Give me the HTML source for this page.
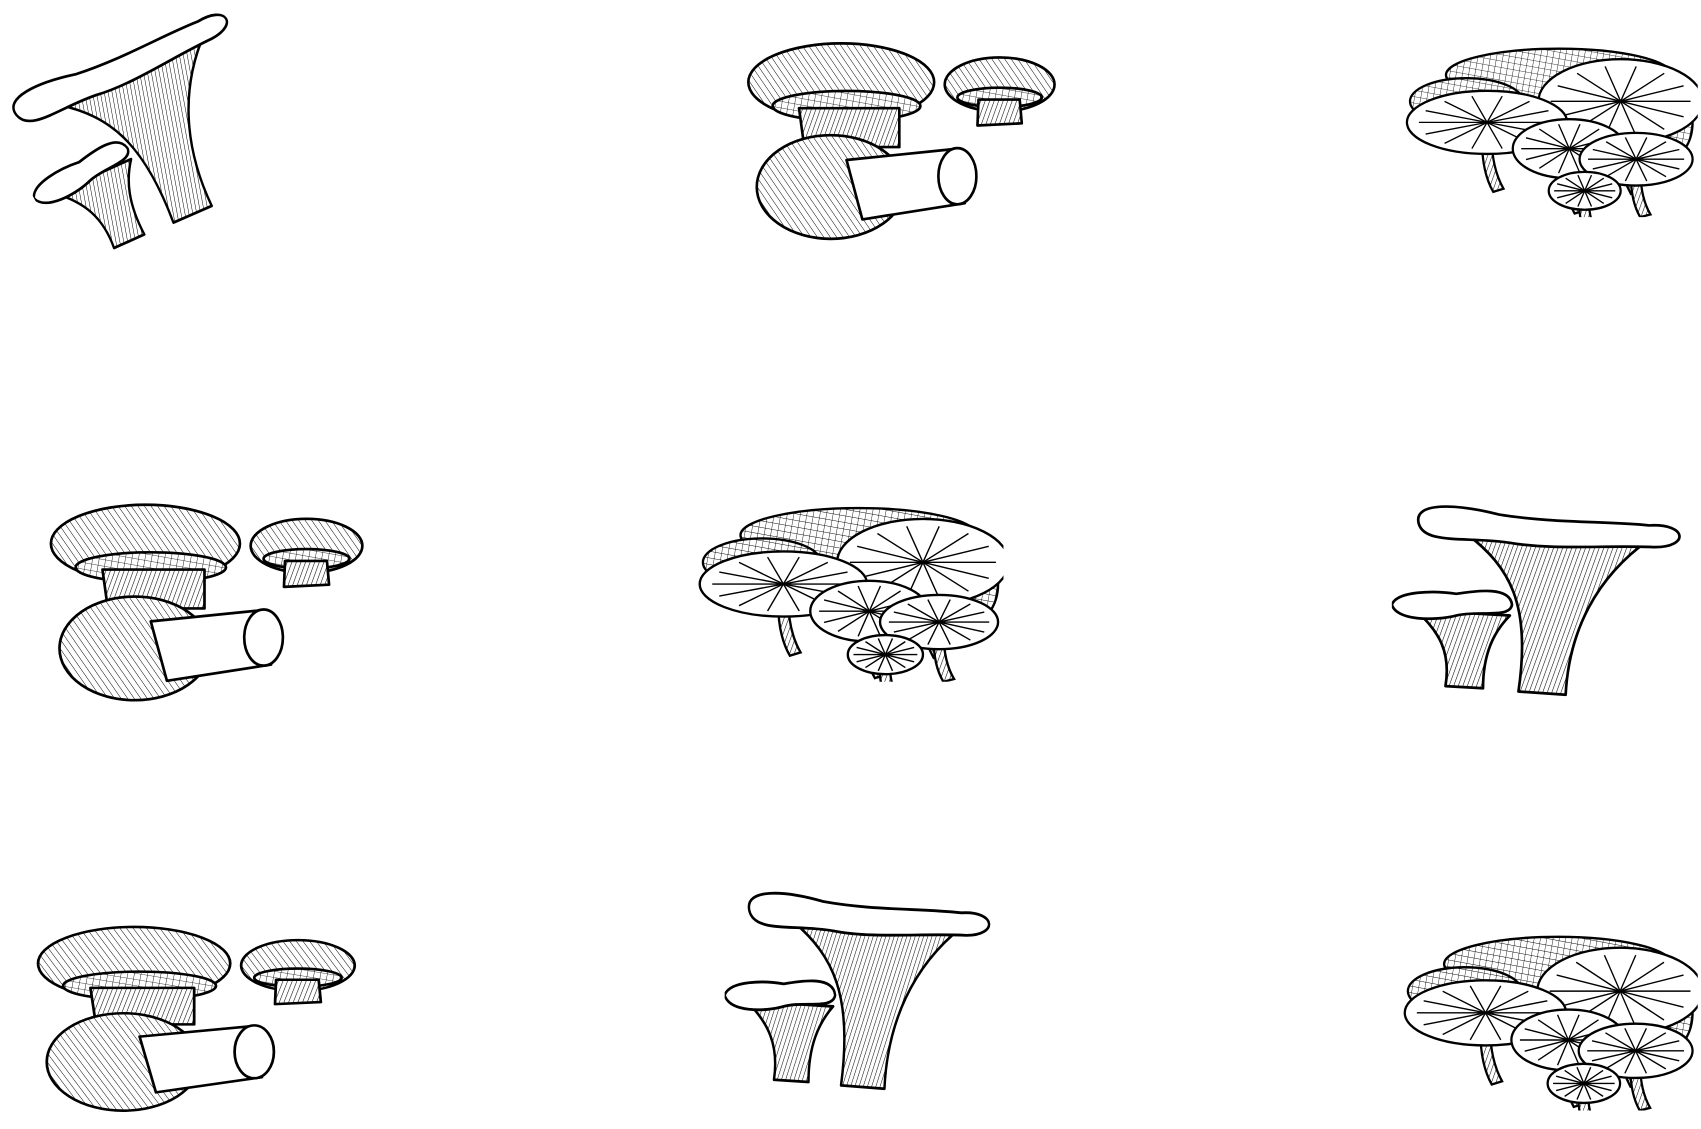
<!DOCTYPE html>
<html><head><meta charset="utf-8"><style>
html,body{margin:0;padding:0;background:#fff;}
svg{display:block;}
</style></head><body>
<svg width="1701" height="1129" viewBox="0 0 1568 1040" preserveAspectRatio="none" xmlns="http://www.w3.org/2000/svg">
<defs>
<pattern id="h1" width="4" height="4" patternUnits="userSpaceOnUse" patternTransform="rotate(20)"><rect width="4" height="4" fill="#fff"/><line x1="0" y1="0" x2="0" y2="4" stroke="#000" stroke-width="1"/></pattern>
<pattern id="h2" width="5" height="5" patternUnits="userSpaceOnUse" patternTransform="rotate(-35)"><rect width="5" height="5" fill="#fff"/><line x1="0" y1="0" x2="0" y2="5" stroke="#000" stroke-width="0.9"/></pattern>
<pattern id="h3" width="6" height="6" patternUnits="userSpaceOnUse" patternTransform="rotate(10)"><rect width="6" height="6" fill="#fff"/><path d="M0 0V6M0 0H6" stroke="#000" stroke-width="0.8"/></pattern>

<symbol id="funnel" viewBox="0 0 275 180" preserveAspectRatio="none">
 <g stroke="#000" stroke-width="2.5" stroke-linejoin="round">
  <path d="M70 30 C110 60,130 95,118 175 L162 178 C165 120,190 70,240 35 Z" fill="url(#h1)"/>
  <path d="M25 20 C20 0,60 2,100 12 C150 20,200 18,240 22 C275 20,278 42,245 42 C200 40,150 45,110 38 C70 32,30 40,25 20 Z" fill="#fff"/>
  <path d="M22 100 C45 120,55 140,50 170 L85 172 C85 140,95 120,110 105 Z" fill="url(#h1)"/>
  <path d="M0 95 C5 82,40 82,60 85 C80 82,110 78,112 95 C110 108,80 100,60 105 C40 110,5 110,0 95 Z" fill="#fff"/>
 </g>
</symbol>

<symbol id="button" viewBox="0 0 300 185" preserveAspectRatio="none">
 <g stroke="#000" stroke-width="2.5" stroke-linejoin="round">
  <ellipse cx="95" cy="38" rx="88" ry="36" fill="url(#h2)"/>
  <ellipse cx="100" cy="60" rx="70" ry="14" fill="url(#h3)"/>
  <path d="M55 62 L60 98 L150 98 L150 62 Z" fill="url(#h1)"/>
  <ellipse cx="245" cy="40" rx="52" ry="25" fill="url(#h2)"/>
  <ellipse cx="245" cy="52" rx="40" ry="9" fill="url(#h3)"/>
  <path d="M225 54 L224 78 L266 76 L264 54 Z" fill="url(#h1)"/>
  <ellipse cx="85" cy="135" rx="70" ry="48" fill="url(#h2)"/>
  <path d="M100 110 L200 100 L212 150 L115 165 Z" fill="#fff"/>
  <ellipse cx="205" cy="125" rx="18" ry="26" fill="#fff"/>
 </g>
</symbol>

<symbol id="oyster" viewBox="0 0 285 165" preserveAspectRatio="none">
 <g id="oyster-g" stroke="#000" stroke-width="2.2" fill="#fff"></g>
</symbol>
</defs>

<g transform="translate(135 122) rotate(-28) translate(-120 -90)">
 <use href="#funnel" x="0" y="0" width="240" height="180"/>
</g>
<use href="#button" x="683" y="38" width="292" height="184"/>
<use href="#oyster" x="1295" y="40" width="270" height="160"/>
<use href="#button" x="40" y="463" width="297" height="184"/>
<use href="#oyster" x="643" y="463" width="282" height="165"/>
<use href="#funnel" x="1283" y="462" width="272" height="180"/>
<use href="#button" x="28" y="852" width="302" height="173"/>
<use href="#funnel" x="668" y="818" width="250" height="187"/>
<use href="#oyster" x="1293" y="858" width="272" height="165"/>
</svg>
<script>
const caps=[[150,30,110,25,0],[60,55,55,22,0],[250,75,30,38,0],[210,55,80,40,1],[80,75,78,30,1],[160,100,55,28,1],[225,110,55,25,1],[175,140,35,18,1]];
const g=document.getElementById('oyster-g');
const NS='http://www.w3.org/2000/svg';
caps.forEach(c=>{
 const [cx,cy,rx,ry,st]=c;
 if(st){const s=document.createElementNS(NS,'path');
  s.setAttribute('d',`M${cx-4} ${cy} Q${cx-8} ${cy+ry*1.4} ${cx+ry*0.4-6} ${cy+ry*2.2} L${cx+ry*0.4+4} ${cy+ry*2.1} Q${cx+2} ${cy+ry*1.3} ${cx+5} ${cy} Z`);
  s.setAttribute('fill','url(#h1)');g.appendChild(s);}
 const e=document.createElementNS(NS,'ellipse');
 e.setAttribute('cx',cx);e.setAttribute('cy',cy);e.setAttribute('rx',rx);e.setAttribute('ry',ry);
 e.setAttribute('fill',st?'#fff':'url(#h3)');g.appendChild(e);
 if(st){for(let i=0;i<14;i++){const a=i/14*Math.PI*2;const l=document.createElementNS(NS,'line');
  l.setAttribute('x1',cx);l.setAttribute('y1',cy);l.setAttribute('x2',cx+Math.cos(a)*rx*0.85);l.setAttribute('y2',cy+Math.sin(a)*ry*0.85);
  l.setAttribute('stroke-width','1.3');g.appendChild(l);}}
});
</script>
</body></html>
